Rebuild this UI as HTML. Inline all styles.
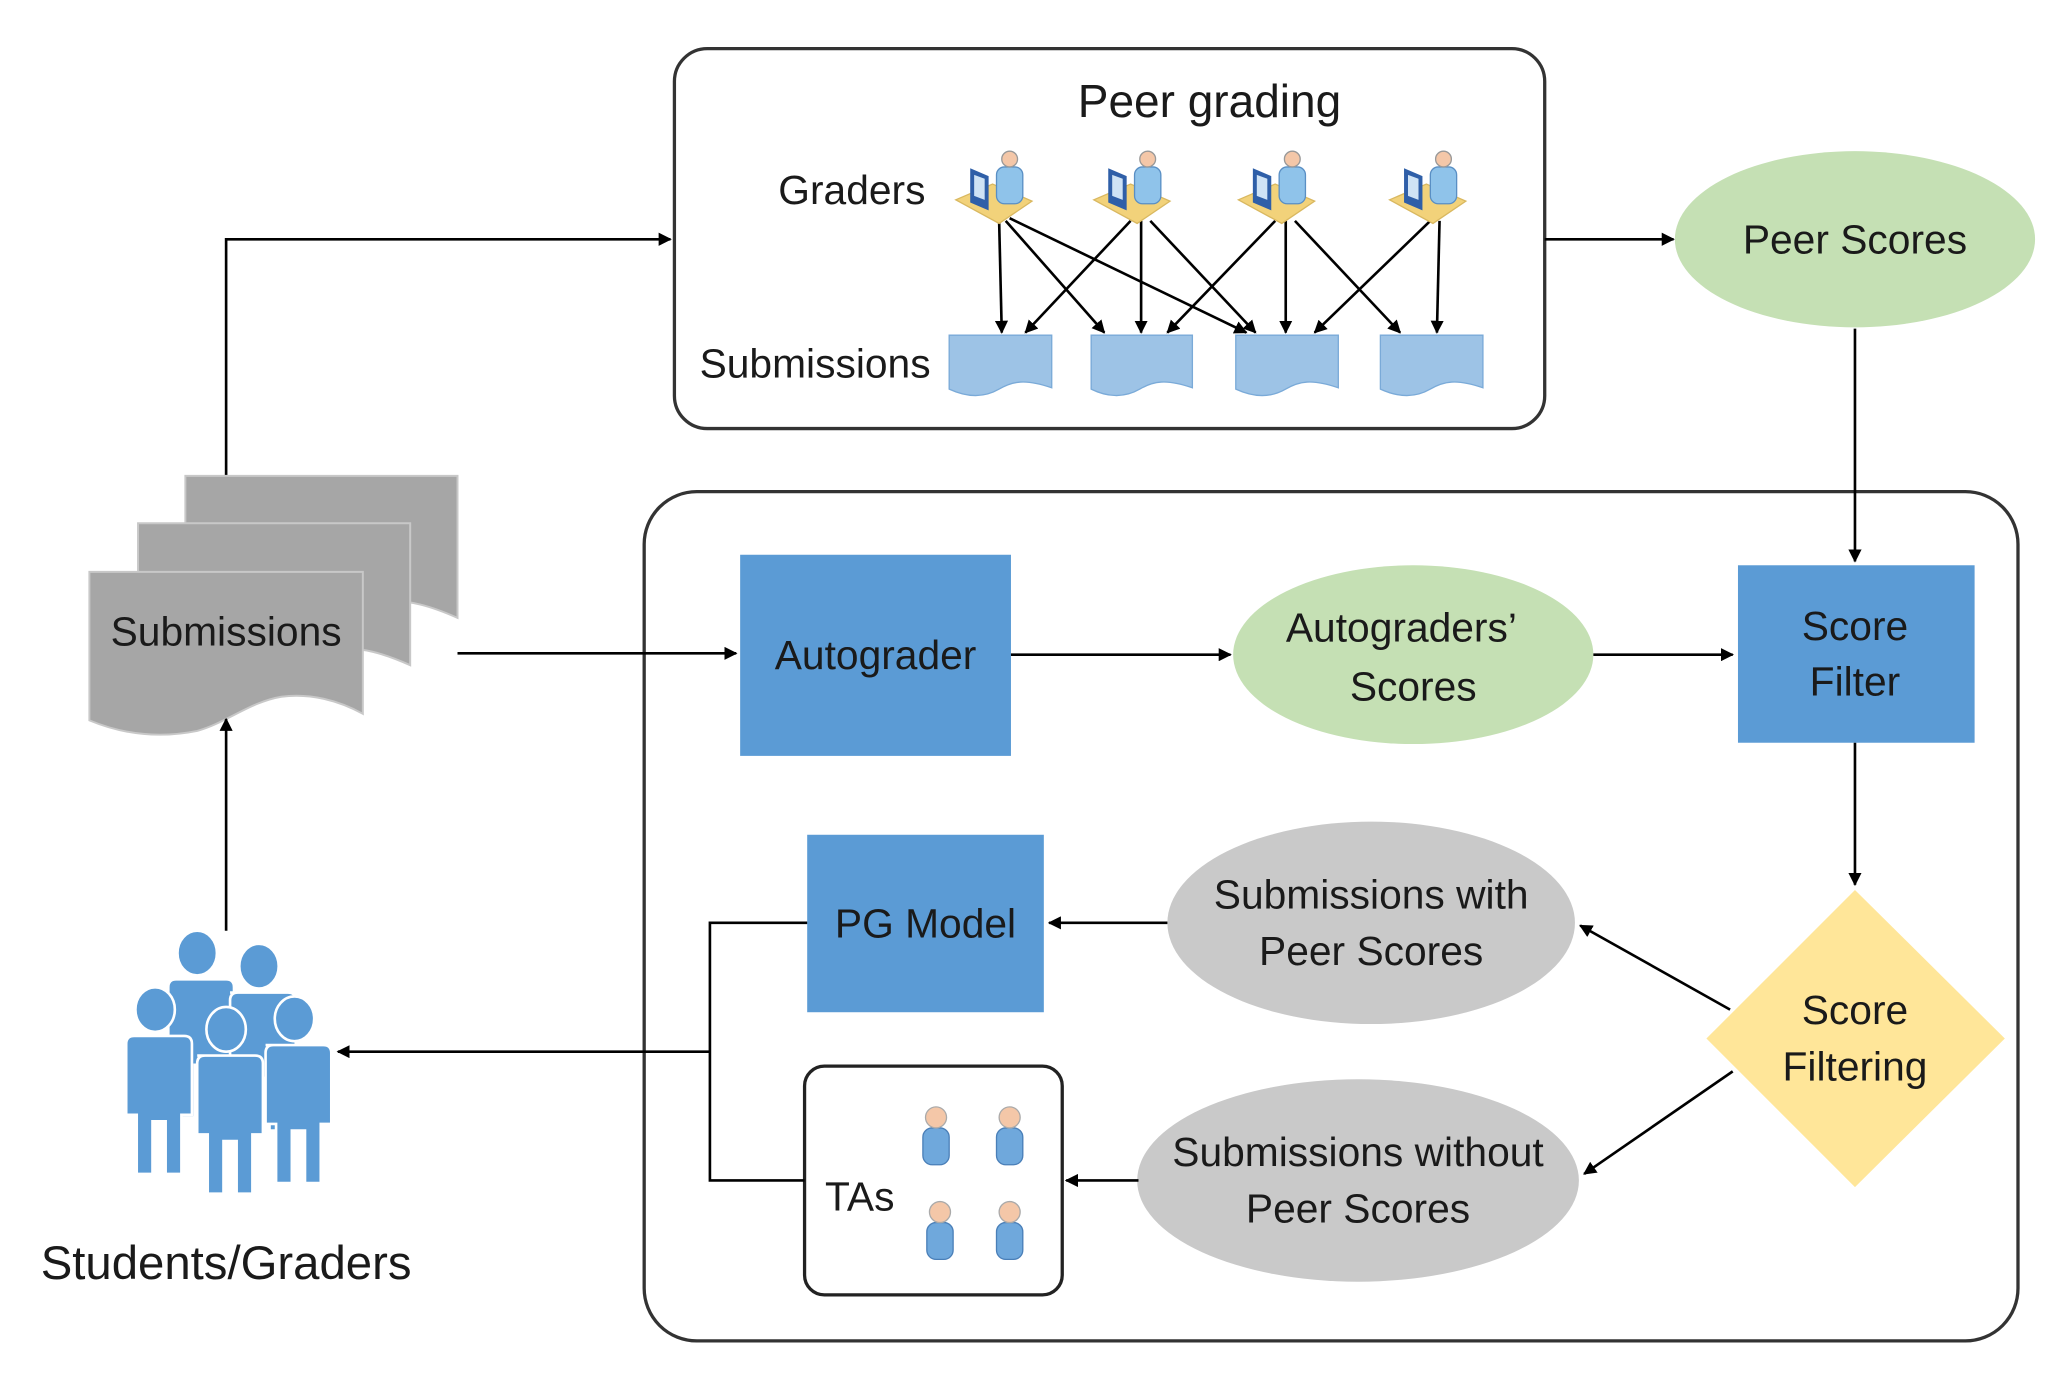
<!DOCTYPE html>
<html><head><meta charset="utf-8"><style>
html,body{margin:0;padding:0;background:#fff;}
svg{display:block;}
text{font-family:"Liberation Sans",sans-serif;fill:#1a1a1a;}
</style></head><body>
<svg width="2064" height="1379" viewBox="0 0 1570 1049" preserveAspectRatio="none" xmlns="http://www.w3.org/2000/svg">
<defs>
<marker id="ah" markerWidth="10" markerHeight="10" refX="9" refY="5" orient="auto" markerUnits="userSpaceOnUse">
<path d="M0,0 L10,5 L0,10 z" fill="#000"/>
</marker>
<g id="grader">
<polygon points="-33,152 -5,140 25,153 0,170" fill="#f2d27a" stroke="#d9b860"/>
<rect x="-2" y="127" width="20" height="28" rx="6" fill="#8fc3ea" stroke="#5a8fc4"/>
<circle cx="8" cy="121" r="6" fill="#f4c7a8" stroke="#999"/>
<polygon points="-22,128 -8,134 -8,160 -22,154" fill="#2f5fa8"/>
<polygon points="-19,133 -11,136 -11,152 -19,149" fill="#cfe3f5"/>
</g>
<g id="ta">
<rect x="-10" y="0" width="20" height="28" rx="7" fill="#6fa8dc" stroke="#4a7fb8"/>
<circle cx="0" cy="-8" r="8" fill="#f4c7a8" stroke="#aaa"/>
</g>
<g id="stu">
<ellipse cx="0" cy="0" rx="15" ry="17" fill="#5b9bd5" stroke="#fff" stroke-width="2"/>
<path d="M-22,20 h44 q6,0 6,6 v54 h-8 v45 h-12 v-40 h-10 v40 h-12 v-45 h-8 v-54 q0,-6 6,-6 z" fill="#5b9bd5" stroke="#fff" stroke-width="2"/>
</g>
</defs>

<rect x="513" y="37" width="662" height="289" rx="25" fill="#fff" stroke="#333" stroke-width="2.5"/>
<text x="920" y="89" font-size="35" text-anchor="middle">Peer grading</text>
<text x="648" y="155" font-size="31" text-anchor="middle">Graders</text>
<text x="620" y="287" font-size="31" text-anchor="middle">Submissions</text>

<g stroke="#000" stroke-width="2" marker-end="url(#ah)">
<line x1="760" y1="168" x2="762" y2="253"/>
<line x1="765" y1="168" x2="840" y2="253"/>
<line x1="768" y1="166" x2="948" y2="253"/>
<line x1="860" y1="168" x2="780" y2="253"/>
<line x1="868" y1="168" x2="868" y2="253"/>
<line x1="875" y1="168" x2="955" y2="253"/>
<line x1="970" y1="168" x2="888" y2="253"/>
<line x1="978" y1="168" x2="978" y2="253"/>
<line x1="985" y1="168" x2="1065" y2="253"/>
<line x1="1088" y1="168" x2="1000" y2="253"/>
<line x1="1095" y1="168" x2="1093" y2="253"/>
</g>
<use href="#grader" x="760" y="0"/>
<use href="#grader" x="865" y="0"/>
<use href="#grader" x="975" y="0"/>
<use href="#grader" x="1090" y="0"/>

<g fill="#9dc3e6" stroke="#7aaad8">
<path d="M722,255 h78 v40 C780,288 770,290 760,296 C748,303 735,302 722,296 z"/>
<path d="M830,255 h77 v40 C887,288 877,290 867,296 C855,303 842,302 830,296 z"/>
<path d="M940,255 h78 v40 C998,288 988,290 978,296 C966,303 953,302 940,296 z"/>
<path d="M1050,255 h78 v40 C1108,288 1098,290 1088,296 C1076,303 1063,302 1050,296 z"/>
</g>

<line x1="1175" y1="182" x2="1273" y2="182" stroke="#000" stroke-width="2" marker-end="url(#ah)"/>
<ellipse cx="1411" cy="182" rx="137" ry="67" fill="#c5e0b4"/>
<text x="1411" y="193" font-size="31" text-anchor="middle">Peer Scores</text>

<polyline points="172,362 172,182 510,182" fill="none" stroke="#000" stroke-width="2" marker-end="url(#ah)"/>

<g fill="#a6a6a6" stroke="#c8c8c8" stroke-width="1.5">
<path d="M141,362 h207 v108 C330,462 310,455 290,458 C270,462 255,470 230,470 L141,470 z"/>
<path d="M105,398 h207 v108 C294,498 274,491 254,494 C234,498 219,506 194,506 L105,506 z"/>
<path d="M68,435 h208 v108 C258,533 236,527 214,530 C190,534 172,550 150,556 C120,562 92,558 68,548 z"/>
</g>
<text x="172" y="491" font-size="31" text-anchor="middle">Submissions</text>

<rect x="490" y="374" width="1045" height="646" rx="40" fill="none" stroke="#333" stroke-width="2.5"/>

<line x1="348" y1="497" x2="560" y2="497" stroke="#000" stroke-width="2" marker-end="url(#ah)"/>
<rect x="563" y="422" width="206" height="153" fill="#5b9bd5"/>
<text x="666" y="509" font-size="31" text-anchor="middle">Autograder</text>

<line x1="769" y1="498" x2="936" y2="498" stroke="#000" stroke-width="2" marker-end="url(#ah)"/>
<ellipse cx="1075" cy="498" rx="137" ry="68" fill="#c5e0b4"/>
<text x="1066" y="488" font-size="31" text-anchor="middle">Autograders’</text>
<text x="1075" y="533" font-size="31" text-anchor="middle">Scores</text>

<line x1="1212" y1="498" x2="1318" y2="498" stroke="#000" stroke-width="2" marker-end="url(#ah)"/>
<rect x="1322" y="430" width="180" height="135" fill="#5b9bd5"/>
<text x="1411" y="487" font-size="31" text-anchor="middle">Score</text>
<text x="1411" y="529" font-size="31" text-anchor="middle">Filter</text>

<line x1="1411" y1="250" x2="1411" y2="427" stroke="#000" stroke-width="2" marker-end="url(#ah)"/>
<line x1="1411" y1="565" x2="1411" y2="673" stroke="#000" stroke-width="2" marker-end="url(#ah)"/>

<polygon points="1411,677 1525,790 1411,903 1298,790" fill="#ffe699"/>
<text x="1411" y="779" font-size="31" text-anchor="middle">Score</text>
<text x="1411" y="822" font-size="31" text-anchor="middle">Filtering</text>

<line x1="1316" y1="768" x2="1202" y2="704" stroke="#000" stroke-width="2" marker-end="url(#ah)"/>
<line x1="1318" y1="815" x2="1205" y2="893" stroke="#000" stroke-width="2" marker-end="url(#ah)"/>

<ellipse cx="1043" cy="702" rx="155" ry="77" fill="#c9c9c9"/>
<text x="1043" y="691" font-size="31" text-anchor="middle">Submissions with</text>
<text x="1043" y="734" font-size="31" text-anchor="middle">Peer Scores</text>

<ellipse cx="1033" cy="898" rx="168" ry="77" fill="#c9c9c9"/>
<text x="1033" y="887" font-size="31" text-anchor="middle">Submissions without</text>
<text x="1033" y="930" font-size="31" text-anchor="middle">Peer Scores</text>

<line x1="888" y1="702" x2="798" y2="702" stroke="#000" stroke-width="2" marker-end="url(#ah)"/>
<rect x="614" y="635" width="180" height="135" fill="#5b9bd5"/>
<text x="704" y="713" font-size="31" text-anchor="middle">PG Model</text>

<line x1="866" y1="898" x2="811" y2="898" stroke="#000" stroke-width="2" marker-end="url(#ah)"/>
<rect x="612" y="811" width="196" height="174" rx="15" fill="#fff" stroke="#222" stroke-width="2.5"/>
<text x="654" y="921" font-size="31" text-anchor="middle">TAs</text>
<use href="#ta" x="712" y="858"/>
<use href="#ta" x="768" y="858"/>
<use href="#ta" x="715" y="930"/>
<use href="#ta" x="768" y="930"/>

<polyline points="614,702 540,702 540,898 612,898" fill="none" stroke="#000" stroke-width="2"/>
<line x1="540" y1="800" x2="257" y2="800" stroke="#000" stroke-width="2" marker-end="url(#ah)"/>

<line x1="172" y1="708" x2="172" y2="547" stroke="#000" stroke-width="2" marker-end="url(#ah)"/>
<use href="#stu" x="150" y="725"/>
<use href="#stu" x="197" y="735"/>
<use href="#stu" x="118" y="768"/>
<use href="#stu" x="224" y="775"/>
<use href="#stu" x="172" y="783"/>
<text x="172" y="973" font-size="36" text-anchor="middle">Students/Graders</text>
</svg>
</body></html>
